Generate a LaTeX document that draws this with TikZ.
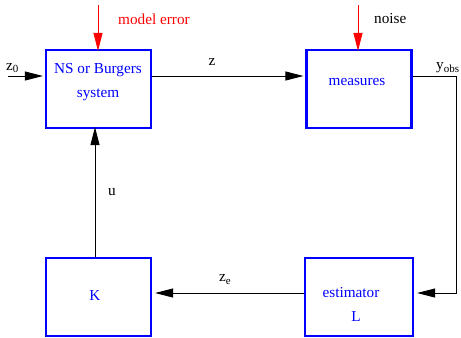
\documentclass[tikz,border=0pt]{standalone}
\usepackage{fontspec}
\setmainfont{Liberation Serif}
\usetikzlibrary{arrows.meta}
\begin{document}
\begin{tikzpicture}[x=1bp,y=-1bp,
  blk/.style={draw=blue,line width=2.2bp,minimum width=105bp,minimum height=78bp,inner sep=0pt},
  btxt/.style={text=blue,inner sep=0pt},
  conn/.style={draw=black,line width=0.9bp},
  tip/.style={-{Triangle[length=18bp,width=9bp]}},
  lbl/.style={inner sep=0pt},
  every node/.style={font=\fontsize{15.3}{18}\selectfont}]
\useasboundingbox (0,0) rectangle (461,337);
\node[blk] (sys) at (98.5,89) {};
\node[blk] (meas) at (359,89) {};
\node[blk] (K) at (98.5,297) {};
\node[blk,minimum width=108bp] (est) at (359,297) {};
\node[btxt] (sys1) at (98,70) {NS or Burgers};
\node[btxt] (sys2) at (98,95) {system};
\node[btxt] (meast) at (357,82) {measures};
\node[btxt] (Kt) at (95,295) {K};
\node[btxt] (est1) at (351,293) {estimator};
\node[btxt] (est2) at (356,316) {L};
% z0
\coordinate (z0s) at (8,76);
\draw[conn,tip] (z0s) -- ([xshift=-2bp]z0s -| sys.west);
\node[lbl,anchor=south west,text=black] (z0l) at (6,73) {z\raisebox{-2bp}{\fontsize{11}{12}\selectfont 0}};
% model error
\coordinate (mes) at (98,5);
\draw[draw=red,line width=0.9bp,tip,red] (mes) -- ([yshift=-2bp]sys.north -| mes);
\node[lbl,anchor=west,text=red] (mel) at (118,19) {model error};
% noise
\coordinate (ns) at (358,5);
\draw[draw=red,line width=0.9bp,tip,red] (ns) -- ([yshift=-2bp]meas.north -| ns);
\node[lbl,anchor=west] (nl) at (374,19) {noise};
% z
\draw[conn,tip] (sys.east |- 0,76) -- ([xshift=-2bp]meas.west |- 0,76);
\node[lbl] (zl) at (212,62) {z};
% yobs
\coordinate (c1) at (456,76);
\coordinate (c2) at (456,293);
\draw[conn,tip] (meas.east |- c1) -- (c1) -- (c2) -- ([xshift=3bp]est.east |- c2);
\node[lbl,anchor=south west] (yl) at (436,73) {y\raisebox{-3bp}{\fontsize{11}{12}\selectfont obs}};
% ze
\draw[conn,tip] (est.west |- 0,293) -- ([xshift=3bp]K.east |- 0,293);
\node[lbl,anchor=south west] (zel) at (219,285) {z\raisebox{-3bp}{\fontsize{11}{12}\selectfont e}};
% u
\draw[conn,tip] (K.north -| 95,0) -- ([yshift=2bp]sys.south -| 95,0);
\node[lbl] (ul) at (112,192) {u};
\end{tikzpicture}
\end{document}
